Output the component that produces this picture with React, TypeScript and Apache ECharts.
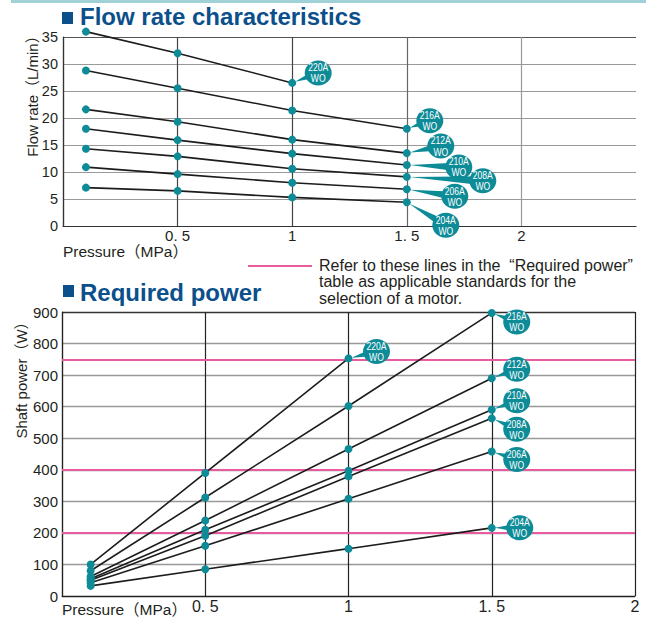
import React, { useEffect, useRef } from 'react';
import * as echarts from 'echarts';

// ---------- data ----------
const models = ['220A', '216A', '212A', '210A', '208A', '206A', '204A'];
const pressure = [0.1, 0.5, 1, 1.5];

// Flow rate (L/min)
const flow220A = [36.0, 32.0, 26.5];
const flow216A = [28.8, 25.5, 21.4, 18.0];
const flow212A = [21.6, 19.3, 16.0, 13.5];
const flow210A = [18.0, 15.9, 13.4, 11.3];
const flow208A = [14.3, 12.9, 10.6, 9.1];
const flow206A = [10.9, 9.6, 8.0, 6.8];
const flow204A = [7.1, 6.5, 5.3, 4.4];

// Shaft power (W)
const power220A = [100, 390, 753];
const power216A = [80, 312, 602, 897];
const power212A = [62, 239, 466, 690];
const power210A = [55, 210, 397, 590];
const power208A = [50, 191, 379, 563];
const power206A = [42, 159, 308, 458];
const power204A = [32, 85, 150, 216];

const motorLimits = [200, 400, 750];

const flowTicks = [0, 5, 10, 15, 20, 25, 30, 35];
const powerTicks = [0, 100, 200, 300, 400, 500, 600, 700, 800, 900];
const pressureTicks = [0.5, 1, 1.5, 2];

const flowSeries = [flow220A, flow216A, flow212A, flow210A, flow208A, flow206A, flow204A];
const powerSeries = [power220A, power216A, power212A, power210A, power208A, power206A, power204A];

// ---------- layout / style ----------
const TEAL = '#0d8b97';
const BLUE = '#0b4f8b';
const PINK = '#e85b9e';
const INK = '#231f20';
const SANS = '"Liberation Sans", Arial, "Noto Sans CJK JP", sans-serif';

const calloutOffsetTop: Record<string, [number, number]> = {
  '220A': [26, -10],
  '216A': [23, -8],
  '212A': [34, -7],
  '210A': [52, 2],
  '208A': [76, 4],
  '206A': [48, 7],
  '204A': [39, 23],
};
const calloutOffsetBottom: Record<string, [number, number]> = {
  '220A': [28, -7],
  '216A': [25, 9],
  '212A': [25, -9],
  '210A': [25, -9],
  '208A': [25, 11],
  '206A': [25, 8],
  '204A': [28, 0],
};

const fmtPressure = (v: number) => {
  if (!pressureTicks.includes(v)) return '';
  return String(v).replace('.', '. ');
};

function calloutSeries(values: number[][], offsets: Record<string, [number, number]>, axisIndex: number) {
  const data = models.map((m, i) => {
    const v = values[i];
    const last = v.length - 1;
    return { name: m, value: [pressure[last], v[last], offsets[m][0], offsets[m][1]] };
  });
  return {
    type: 'custom',
    xAxisIndex: axisIndex,
    yAxisIndex: axisIndex,
    z: 10,
    silent: true,
    clip: false,
    data,
    renderItem: (params: any, api: any) => {
      const pt = api.coord([api.value(0), api.value(1)]);
      const dx = api.value(2);
      const dy = api.value(3);
      const cx = pt[0] + dx;
      const cy = pt[1] + dy;
      const len = Math.hypot(dx, dy) || 1;
      const ux = dx / len;
      const uy = dy / len;
      const px = -uy;
      const py = ux;
      const w = 4.5;
      const name = data[params.dataIndex].name;
      const font = `11px ${SANS}`;
      return {
        type: 'group',
        children: [
          {
            type: 'polygon',
            shape: {
              points: [
                [pt[0] + ux * 3, pt[1] + uy * 3],
                [cx + px * w, cy + py * w],
                [cx - px * w, cy - py * w],
              ],
            },
            style: { fill: TEAL },
          },
          { type: 'ellipse', shape: { cx, cy, rx: 13.5, ry: 12.5 }, style: { fill: TEAL } },
          {
            type: 'text',
            x: cx,
            y: cy - 5.6,
            scaleX: 0.78,
            style: { text: name, fill: '#fff', font, align: 'center', verticalAlign: 'middle' },
          },
          {
            type: 'text',
            x: cx,
            y: cy + 5.6,
            scaleX: 0.78,
            style: { text: 'WO', fill: '#fff', font, align: 'center', verticalAlign: 'middle' },
          },
        ],
      };
    },
  };
}

function lineSeries(values: number[][], axisIndex: number) {
  return models.map((m, i) => ({
    name: m,
    type: 'line',
    xAxisIndex: axisIndex,
    yAxisIndex: axisIndex,
    data: values[i].map((v, j) => [pressure[j], v]),
    symbol: 'circle',
    symbolSize: 8,
    clip: false,
    itemStyle: { color: TEAL },
    lineStyle: { color: '#1c1c1c', width: 1.6 },
    z: 5,
    silent: true,
  }));
}

export default function App() {
  const ref = useRef<HTMLDivElement>(null);

  useEffect(() => {
    if (!ref.current) return;
    const chart = echarts.init(ref.current, undefined, { renderer: 'svg' });

    const topLines = lineSeries(flowSeries, 0);
    const bottomLines = lineSeries(powerSeries, 1);
    (bottomLines[0] as any).markLine = {
      silent: true,
      symbol: 'none',
      label: { show: false },
      lineStyle: { color: PINK, width: 2, type: 'solid' },
      data: motorLimits.map((v) => ({ yAxis: v })),
      z: 4,
    };

    const option: any = {
      animation: false,
      backgroundColor: '#fff',
      grid: [
        { left: 63, right: 16, top: 37, height: 189 },
        { left: 62, right: 17, top: 312, height: 284 },
      ],
      xAxis: [
        {
          type: 'value',
          gridIndex: 0,
          min: 0,
          max: 2.5,
          interval: 0.5,
          axisLine: { show: true, lineStyle: { color: '#333', width: 1.2 } },
          axisTick: { show: false },
          axisLabel: { formatter: fmtPressure, color: INK, fontSize: 15, fontFamily: SANS, margin: 2, showMaxLabel: true },
          splitLine: {
            show: true,
            lineStyle: { color: ['#333', '#444', '#444', '#666', '#999', 'rgba(0,0,0,0)'], width: 1.2 },
          },
        },
        {
          type: 'value',
          gridIndex: 1,
          min: 0,
          max: 2,
          interval: 0.5,
          axisLine: { show: true, lineStyle: { color: '#222', width: 1.2 } },
          axisTick: { show: false },
          axisLabel: { formatter: fmtPressure, color: INK, fontSize: 16, fontFamily: SANS, margin: 2 },
          splitLine: { show: true, lineStyle: { color: '#222', width: 1.2 } },
        },
      ],
      yAxis: [
        {
          type: 'value',
          gridIndex: 0,
          min: 0,
          max: 35,
          interval: 5,
          axisLine: { show: true, lineStyle: { color: '#333', width: 1.2 } },
          axisTick: { show: false },
          axisLabel: {
            color: INK,
            fontSize: 14.5,
            fontFamily: SANS,
            margin: 5,
            formatter: (v: number) => (flowTicks.includes(v) ? String(v) : ''),
          },
          splitLine: {
            show: true,
            lineStyle: { color: ['#333', '#999', '#999', '#999', '#999', '#999', '#999', '#555'], width: 1.2 },
          },
        },
        {
          type: 'value',
          gridIndex: 1,
          min: 0,
          max: 900,
          interval: 100,
          axisLine: { show: true, lineStyle: { color: '#222', width: 1.2 } },
          axisTick: { show: false },
          axisLabel: {
            color: INK,
            fontSize: 15,
            fontFamily: SANS,
            margin: 4,
            formatter: (v: number) => (powerTicks.includes(v) ? String(v) : ''),
          },
          splitLine: {
            show: true,
            lineStyle: {
              color: ['#222', '#999', '#999', '#999', '#999', '#999', '#999', '#999', '#999', '#333'],
              width: 1.3,
            },
          },
        },
      ],
      graphic: [
        { type: 'rect', shape: { x: 11, y: 0, width: 635, height: 3 }, style: { fill: '#9fd1d6' } },
        { type: 'rect', shape: { x: 62, y: 12, width: 11, height: 12 }, style: { fill: BLUE } },
        {
          type: 'text',
          x: 80,
          y: 16.5,
          style: { text: 'Flow rate characteristics', fill: BLUE, font: `bold 24px ${SANS}`, verticalAlign: 'middle' },
        },
        { type: 'rect', shape: { x: 63, y: 285, width: 11, height: 12 }, style: { fill: BLUE } },
        {
          type: 'text',
          x: 80,
          y: 292,
          style: { text: 'Required power', fill: BLUE, font: `bold 24px ${SANS}`, verticalAlign: 'middle' },
        },
        {
          type: 'text',
          x: 32,
          y: 92.5,
          rotation: Math.PI / 2,
          style: { text: 'Flow rate（L/min）', fill: INK, font: `15px ${SANS}`, align: 'center', verticalAlign: 'middle' },
        },
        {
          type: 'text',
          x: 63,
          y: 251,
          style: { text: 'Pressure（MPa）', fill: INK, font: `15.5px ${SANS}`, verticalAlign: 'middle' },
        },
        {
          type: 'text',
          x: 21,
          y: 376.5,
          rotation: Math.PI / 2,
          style: { text: 'Shaft power（W）', fill: INK, font: `15px ${SANS}`, align: 'center', verticalAlign: 'middle' },
        },
        {
          type: 'text',
          x: 62,
          y: 609,
          style: { text: 'Pressure（MPa）', fill: INK, font: `15.5px ${SANS}`, verticalAlign: 'middle' },
        },
        { type: 'line', shape: { x1: 248, y1: 266, x2: 312, y2: 266 }, style: { stroke: PINK, lineWidth: 2 } },
        {
          type: 'text',
          x: 319,
          y: 265,
          style: { text: 'Refer to these lines in the  “Required power”', fill: INK, font: `16px ${SANS}`, verticalAlign: 'middle' },
        },
        {
          type: 'text',
          x: 319,
          y: 281.5,
          style: { text: 'table as applicable standards for the', fill: INK, font: `16px ${SANS}`, verticalAlign: 'middle' },
        },
        {
          type: 'text',
          x: 319,
          y: 298,
          style: { text: 'selection of a motor.', fill: INK, font: `16px ${SANS}`, verticalAlign: 'middle' },
        },
      ],
      series: [
        ...topLines,
        ...bottomLines,
        calloutSeries(flowSeries, calloutOffsetTop, 0),
        calloutSeries(powerSeries, calloutOffsetBottom, 1),
      ],
    };

    chart.setOption(option);
    return () => chart.dispose();
  }, []);

  return <div ref={ref} style={{ position: 'absolute', left: 0, top: 0, width: 652, height: 618 }} />;
}
